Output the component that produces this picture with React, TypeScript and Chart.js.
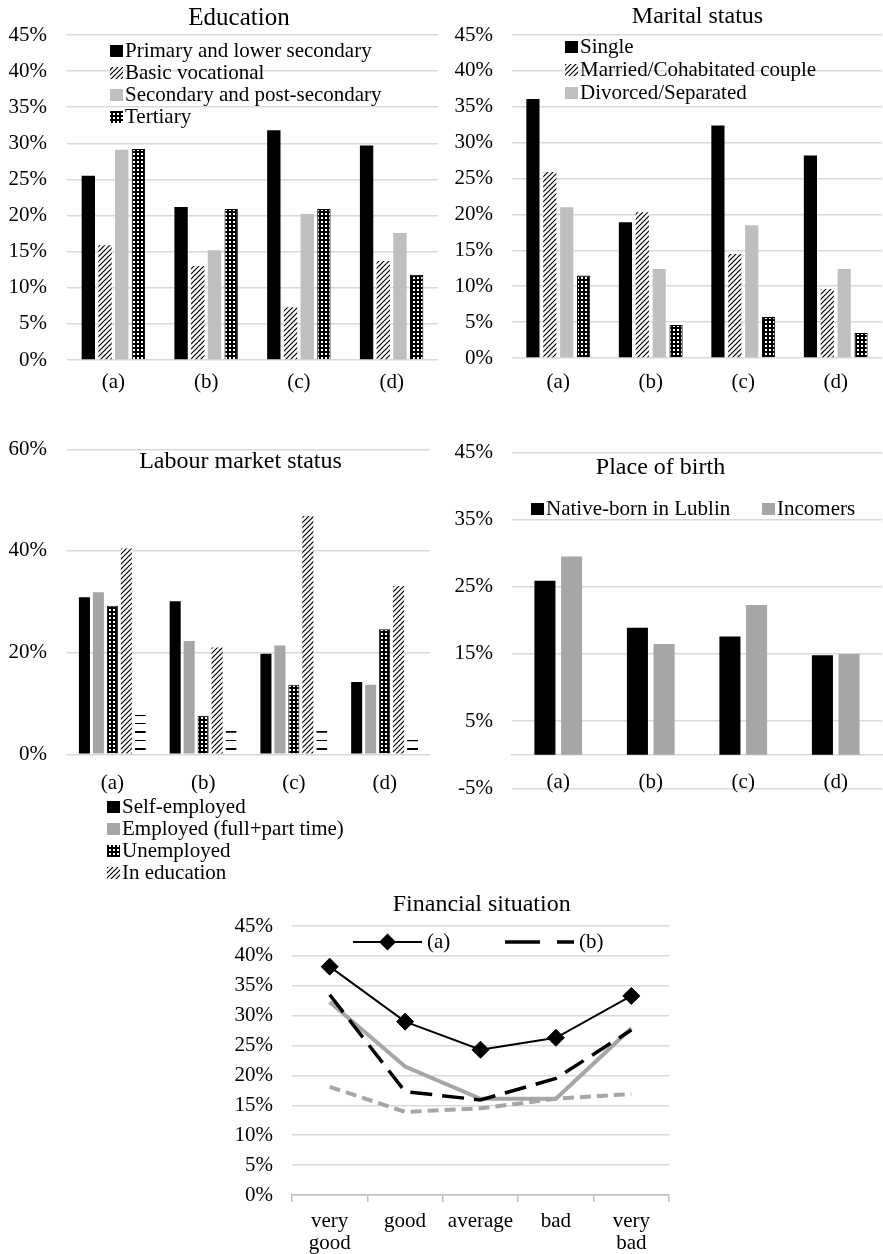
import { useEffect, useRef } from 'react';
import { Chart, ChartConfiguration, registerables } from 'chart.js';

Chart.register(...registerables);

const FONT = '"Liberation Serif", "Times New Roman", Times, serif';
const GRID = '#d9d9d9';
const INK = '#000000';

// ---- data (percent) ----
const groups = ['(a)', '(b)', '(c)', '(d)'];

const eduLabels = ['Primary and lower secondary', 'Basic vocational', 'Secondary and post-secondary', 'Tertiary'];
const eduPrimary = [25.5, 21.2, 31.8, 29.7];
const eduVocational = [15.9, 13.0, 7.3, 13.7];
const eduSecondary = [29.1, 15.2, 20.2, 17.6];
const eduTertiary = [29.2, 20.9, 20.9, 11.8];

const maritalLabels = ['Single', 'Married/Cohabitated couple', 'Divorced/Separated'];
const maritalSingle = [36.1, 18.9, 32.4, 28.2];
const maritalMarried = [25.9, 20.3, 14.5, 9.6];
const maritalDivorced = [21.0, 12.4, 18.5, 12.4];
const maritalOther = [11.5, 4.6, 5.7, 3.5];

const labourLabels = ['Self-employed', 'Employed (full+part time)', 'Unemployed', 'In education'];
const labourSelf = [30.9, 30.1, 19.8, 14.2];
const labourEmployed = [31.9, 22.3, 21.4, 13.7];
const labourUnemployed = [29.2, 7.6, 13.7, 24.6];
const labourStudying = [40.5, 21.0, 46.9, 33.1];
const labourOther = [7.8, 4.6, 4.6, 2.8];

const birthLabels = ['Native-born in Lublin', 'Incomers'];
const birthNative = [25.9, 18.9, 17.6, 14.8];
const birthIncomers = [29.5, 16.5, 22.3, 15.0];

const finCategories = [['very', 'good'], 'good', 'average', 'bad', ['very', 'bad']];
const finSeries = ['(a)', '(b)', '(c)', '(d)'];
const finA = [38.2, 29.0, 24.3, 26.3, 33.3];
const finB = [33.5, 17.3, 15.9, 19.5, 27.6];
const finC = [32.3, 21.5, 16.1, 16.1, 27.9];
const finD = [18.1, 13.9, 14.5, 16.1, 16.9];

// ---- fill patterns ----
function makeTile(w: number, h: number, paint: (g: CanvasRenderingContext2D) => void) {
  const c = document.createElement('canvas');
  c.width = w;
  c.height = h;
  paint(c.getContext('2d')!);
  return c;
}

function diagonal(ctx: CanvasRenderingContext2D) {
  const s = 5;
  const t = makeTile(s, s, g => {
    g.fillStyle = '#fff';
    g.fillRect(0, 0, s, s);
    g.strokeStyle = '#000';
    g.lineWidth = 1.2;
    for (const k of [0, s, 2 * s]) {
      g.beginPath();
      g.moveTo(k + 1, -1);
      g.lineTo(k - s - 1, s + 1);
      g.stroke();
    }
  });
  return ctx.createPattern(t, 'repeat')!;
}

function dotted(ctx: CanvasRenderingContext2D) {
  const t = makeTile(4, 4, g => {
    g.fillStyle = '#000';
    g.fillRect(0, 0, 4, 4);
    g.fillStyle = '#fff';
    g.fillRect(1, 1, 2, 2);
  });
  return ctx.createPattern(t, 'repeat')!;
}

function striped(ctx: CanvasRenderingContext2D) {
  const t = makeTile(4, 17, g => {
    g.fillStyle = '#fff';
    g.fillRect(0, 0, 4, 17);
    g.fillStyle = '#000';
    g.fillRect(0, 0, 4, 1);
    g.fillRect(0, 8, 4, 2);
  });
  return ctx.createPattern(t, 'repeat')!;
}

// ---- small plugins: title and legend drawn inside the plot ----
const overlayTitle = {
  id: 'overlayTitle',
  afterDraw(chart: any, _a: any, o: any) {
    if (!o || !o.text) return;
    const { ctx } = chart;
    ctx.save();
    ctx.font = `${o.size || 24}px ${FONT}`;
    ctx.fillStyle = INK;
    ctx.textAlign = 'center';
    ctx.textBaseline = 'middle';
    ctx.fillText(o.text, o.x, o.y);
    ctx.restore();
  },
};

const innerLegend = {
  id: 'innerLegend',
  afterDraw(chart: any, _a: any, o: any) {
    if (!o || !o.show) return;
    const { ctx } = chart;
    ctx.save();
    ctx.font = `21px ${FONT}`;
    ctx.textAlign = 'left';
    ctx.textBaseline = 'alphabetic';
    o.show.forEach((di: number, i: number) => {
      const ds = chart.data.datasets[di];
      const x = o.x + i * (o.stepX || 0);
      const y = o.y + i * (o.stepY || 0);
      let tx = x + 15;
      if (o.lines) {
        const cy = y - 6;
        ctx.save();
        ctx.strokeStyle = ds.borderColor;
        ctx.lineWidth = ds.borderWidth;
        ctx.setLineDash(ds.borderDash ? [35, 17] : []);
        ctx.beginPath();
        ctx.moveTo(x, cy);
        ctx.lineTo(x + o.sample, cy);
        ctx.stroke();
        ctx.restore();
        if (ds.pointRadius) {
          const r = ds.pointRadius;
          const mx = x + o.sample / 2;
          ctx.fillStyle = ds.backgroundColor;
          ctx.beginPath();
          ctx.moveTo(mx, cy - r);
          ctx.lineTo(mx + r, cy);
          ctx.lineTo(mx, cy + r);
          ctx.lineTo(mx - r, cy);
          ctx.closePath();
          ctx.fill();
        }
        tx = x + o.sample + 5;
      } else {
        ctx.fillStyle = ds.backgroundColor;
        ctx.fillRect(x, y - 12, 13, 12);
      }
      ctx.fillStyle = INK;
      ctx.fillText(ds.label, tx, y);
    });
    ctx.restore();
  },
};

const tickFont = { family: FONT, size: 21 };

function yAxis(min: number, max: number, step: number, width: number, pad: number) {
  return {
    min,
    max,
    ticks: { stepSize: step, padding: pad, color: INK, font: tickFont, callback: (v: any) => v + '%' },
    grid: { color: GRID, lineWidth: 1.5, drawTicks: false },
    border: { display: false },
    afterFit: (s: any) => { s.width = width; },
  };
}

function catAxis(pad: number, height: number) {
  return {
    grid: { display: false, drawTicks: false },
    border: { display: false },
    ticks: { padding: pad, color: INK, font: tickFont, maxRotation: 0, autoSkip: false },
    afterFit: (s: any) => { s.height = height; },
  };
}

function barOptions(extra: any) {
  return {
    responsive: false,
    animation: false,
    events: [],
    datasets: { bar: { categoryPercentage: extra.cat, barPercentage: extra.bar } },
    layout: { padding: extra.padding },
    scales: extra.scales,
    plugins: {
      legend: { display: false },
      tooltip: { enabled: false },
      overlayTitle: extra.title,
      innerLegend: extra.legend,
    },
  };
}

function buildEducation(ctx: CanvasRenderingContext2D): ChartConfiguration {
  return {
    type: 'bar',
    data: {
      labels: groups,
      datasets: [
        { label: eduLabels[0], data: eduPrimary, backgroundColor: '#000' },
        { label: eduLabels[1], data: eduVocational, backgroundColor: diagonal(ctx) },
        { label: eduLabels[2], data: eduSecondary, backgroundColor: '#bfbfbf' },
        { label: eduLabels[3], data: eduTertiary, backgroundColor: dotted(ctx), borderColor: '#000', borderWidth: 1 },
      ],
    },
    options: barOptions({
      cat: 0.72,
      bar: 0.8,
      padding: { top: 35, right: 2, bottom: 0, left: 0 },
      scales: { x: catAxis(10, 40), y: yAxis(0, 45, 5, 67, 20) },
      title: { text: 'Education', x: 239, y: 18, size: 25 },
      legend: { show: [0, 1, 2, 3], x: 110, y: 57, stepY: 22 },
    }),
    plugins: [overlayTitle, innerLegend],
  } as any;
}

function buildMarital(ctx: CanvasRenderingContext2D): ChartConfiguration {
  return {
    type: 'bar',
    data: {
      labels: groups,
      datasets: [
        { label: maritalLabels[0], data: maritalSingle, backgroundColor: '#000' },
        { label: maritalLabels[1], data: maritalMarried, backgroundColor: diagonal(ctx) },
        { label: maritalLabels[2], data: maritalDivorced, backgroundColor: '#bfbfbf' },
        { label: '', data: maritalOther, backgroundColor: dotted(ctx), borderColor: '#000', borderWidth: 1 },
      ],
    },
    options: barOptions({
      cat: 0.73,
      bar: 0.78,
      padding: { top: 35, right: 1, bottom: 2, left: 0 },
      scales: { x: catAxis(12, 40), y: yAxis(0, 45, 5, 72, 19) },
      title: { text: 'Marital status', x: 257.5, y: 17 },
      legend: { show: [0, 1, 2], x: 125, y: 53, stepY: 23 },
    }),
    plugins: [overlayTitle, innerLegend],
  } as any;
}

function buildLabour(ctx: CanvasRenderingContext2D): ChartConfiguration {
  return {
    type: 'bar',
    data: {
      labels: groups,
      datasets: [
        { label: labourLabels[0], data: labourSelf, backgroundColor: '#000' },
        { label: labourLabels[1], data: labourEmployed, backgroundColor: '#a6a6a6' },
        { label: labourLabels[2], data: labourUnemployed, backgroundColor: dotted(ctx), borderColor: '#000', borderWidth: 1 },
        { label: labourLabels[3], data: labourStudying, backgroundColor: diagonal(ctx) },
        {
          label: '',
          data: labourOther,
          backgroundColor: striped(ctx),
          borderColor: '#000',
          borderWidth: { top: 1.5, left: 0, right: 0, bottom: 0 },
        },
      ],
    },
    options: barOptions({
      cat: 0.77,
      bar: 0.79,
      padding: { top: 49.3, right: 10, bottom: 100.7, left: 0 },
      scales: { x: catAxis(17, 40), y: yAxis(0, 60, 20, 67, 20) },
      title: { text: 'Labour market status', x: 240.5, y: 62 },
      legend: { show: [0, 1, 2, 3], x: 107, y: 413, stepY: 22 },
    }),
    plugins: [overlayTitle, innerLegend],
  } as any;
}

function buildBirth(): ChartConfiguration {
  const x = catAxis(15, 40) as any;
  x.position = { y: 0 };
  x.border = { display: true, color: GRID, width: 1.5 };
  return {
    type: 'bar',
    data: {
      labels: groups,
      datasets: [
        { label: birthLabels[0], data: birthNative, backgroundColor: '#000' },
        { label: birthLabels[1], data: birthIncomers, backgroundColor: '#a6a6a6' },
      ],
    },
    options: barOptions({
      cat: 0.576,
      bar: 0.79,
      padding: { top: 52.3, right: 1, bottom: 26.7, left: 0 },
      scales: { x, y: yAxis(-5, 45, 10, 72, 19) },
      title: { text: 'Place of birth', x: 220.5, y: 68 },
      legend: { show: [0, 1], x: 91, y: 115, stepX: 231 },
    }),
    plugins: [overlayTitle, innerLegend],
  } as any;
}

function buildFinancial(): ChartConfiguration {
  return {
    type: 'line',
    data: {
      labels: finCategories,
      datasets: [
        {
          label: finSeries[0], data: finA, borderColor: '#000', backgroundColor: '#000', borderWidth: 2,
          pointStyle: 'rectRot', pointRadius: 8.5, pointBorderWidth: 1, pointBorderColor: '#000',
        },
        { label: finSeries[1], data: finB, borderColor: '#000', borderWidth: 3.5, borderDash: [22, 10], pointRadius: 0 },
        { label: finSeries[2], data: finC, borderColor: '#a6a6a6', borderWidth: 4, pointRadius: 0 },
        { label: finSeries[3], data: finD, borderColor: '#a6a6a6', borderWidth: 4, borderDash: [11, 6], pointRadius: 0 },
      ],
    },
    options: {
      responsive: false,
      animation: false,
      events: [],
      layout: { padding: { top: 36, right: 11, bottom: 0, left: 0 } },
      scales: {
        x: {
          offset: true,
          grid: { display: true, drawOnChartArea: false, drawTicks: true, tickLength: 7, offset: true, color: '#bfbfbf', lineWidth: 1.5 },
          border: { display: true, color: '#bfbfbf', width: 1.5 },
          ticks: { padding: 8, color: INK, font: { family: FONT, size: 21, lineHeight: 1.05 }, maxRotation: 0, autoSkip: false },
          afterFit: (s: any) => { s.height = 59; },
        },
        y: yAxis(0, 45, 5, 72, 19),
      },
      plugins: {
        legend: { display: false },
        tooltip: { enabled: false },
        overlayTitle: { text: 'Financial situation', x: 261.7, y: 15 },
        innerLegend: { show: [0, 1], x: 133, y: 58, stepX: 152, lines: true, sample: 69 },
      },
    },
    plugins: [overlayTitle, innerLegend],
  } as any;
}

interface BoxProps {
  left: number;
  top: number;
  width: number;
  height: number;
  build: (ctx: CanvasRenderingContext2D) => ChartConfiguration;
}

function ChartBox({ left, top, width, height, build }: BoxProps) {
  const ref = useRef<HTMLCanvasElement>(null);

  useEffect(() => {
    if (!ref.current) return;
    const ctx = ref.current.getContext('2d')!;
    const chart = new Chart(ref.current, build(ctx));
    return () => chart.destroy();
  }, [build]);

  return (
    <canvas
      ref={ref}
      width={width}
      height={height}
      style={{ position: 'absolute', left, top, width, height }}
    />
  );
}

export default function App() {
  return (
    <div style={{ position: 'absolute', left: 0, top: 0, width: 883, height: 1254, background: '#fff' }}>
      <ChartBox left={0} top={0} width={440} height={400} build={buildEducation} />
      <ChartBox left={440} top={0} width={443} height={400} build={buildMarital} />
      <ChartBox left={0} top={400} width={440} height={495} build={buildLabour} />
      <ChartBox left={440} top={400} width={443} height={420} build={buildBirth} />
      <ChartBox left={220} top={890} width={460} height={364} build={buildFinancial} />
    </div>
  );
}
